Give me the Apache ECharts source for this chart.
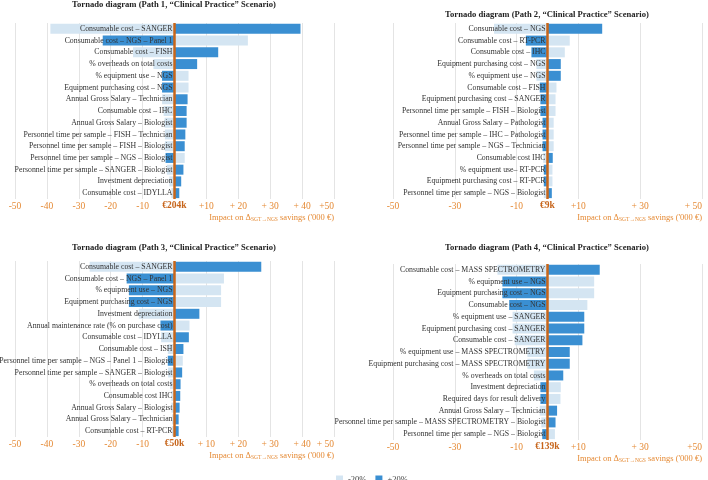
<!DOCTYPE html>
<html>
<head>
<meta charset="utf-8">
<script src="https://cdn.jsdelivr.net/npm/echarts@6/dist/echarts.min.js"></script>
<style>
  html, body { margin: 0; padding: 0; background: #fff; }
  #chart { width: 708px; height: 480px; }
</style>
</head>
<body>
<div id="chart"></div>
<script>
// categories per panel (top to bottom)
const cats1 = ["Consumable cost – SANGER", "Consumable cost – NGS – Panel 1", "Consumable cost – FISH", "% overheads on total costs", "% equipment use – NGS", "Equipment purchasing cost – NGS", "Annual Gross Salary – Technician", "Consumable cost – IHC", "Annual Gross Salary – Biologist", "Personnel time per sample – FISH – Technician", "Personnel time per sample – FISH – Biologist", "Personnel time per sample – NGS – Biologist", "Personnel time per sample – SANGER – Biologist", "Investment depreciation", "Consumable cost – IDYLLA"];
const cats2 = ["Consumable cost – NGS", "Consumable cost – RT-PCR", "Consumable cost – IHC", "Equipment purchasing cost – NGS", "% equipment use – NGS", "Consumable cost – FISH", "Equipment purchasing cost – SANGER", "Personnel time per sample – FISH – Biologist", "Annual Gross Salary – Pathologist", "Personnel time per sample – IHC – Pathologist", "Personnel time per sample – NGS – Technician", "Consumable cost IHC", "% equipment use– RT-PCR", "Equipment purchasing cost – RT-PCR", "Personnel time per sample – NGS – Biologist"];
const cats3 = ["Consumable cost – SANGER", "Consumable cost – NGS – Panel 1", "% equipment use – NGS", "Equipment purchasing cost – NGS", "Investment depreciation", "Annual maintenance rate (% on purchase cost)", "Consumable cost – IDYLLA", "Consumable cost – ISH", "Personnel time per sample – NGS – Panel 1 – Biologist", "Personnel time per sample – SANGER – Biologist", "% overheads on total costs", "Consumable cost IHC", "Annual Gross Salary – Biologist", "Annual Gross Salary – Technician", "Consumable cost – RT-PCR"];
const cats4 = ["Consumable cost – MASS SPECTROMETRY", "% equipment use – NGS", "Equipment purchasing cost – NGS", "Consumable cost – NGS", "% equipment use – SANGER", "Equipment purchasing cost – SANGER", "Consumable cost – SANGER", "% equipment use – MASS SPECTROMETRY", "Equipment purchasing cost – MASS SPECTROMETRY", "% overheads on total costs", "Investment depreciation", "Required days for result delivery", "Annual Gross Salary – Technician", "Personnel time per sample – MASS SPECTROMETRY – Biologist", "Personnel time per sample – NGS – Biologist"];

// impact ('000 €) of -20% and +20% variation
const minus1 = [-38.9, 23, -13, -6.6, 4.4, 4.4, -3.9, -3.4, -3.1, -3, -3, 3.2, -2.4, -1.6, -1];
const plus1 = [39.5, -22.5, 13.7, 7.1, -3.9, -3.9, 4.1, 3.8, 3.8, 3.4, 3.2, -2.8, 2.8, 2.1, 1.5];
const minus2 = [-17.3, 7.2, 5.6, -3.6, -3.6, 2.9, 2.6, 2.6, 2, 2, 2, -1.4, 1.6, 1.6, -1.2];
const plus2 = [17.7, -7, -5.2, 4.3, 4.3, -2.5, -2.3, -2.3, -1.6, -1.6, -1.6, 1.7, -1.2, -1.2, 1.4];
const minus3 = [-26.6, 15.5, 14.6, 14.6, -11.2, 4.7, -4.2, -2.1, 2.6, -2, -1.4, -1, -1, -0.8, -0.8];
const plus3 = [27.2, -15, -14.3, -14.3, 7.8, -4.4, 4.5, 2.8, -2.1, 2.4, 1.9, 1.8, 1.6, 1.3, 1.3];
const minus4 = [-16.2, 15.1, 15.1, 12.9, -11.3, -11.3, -10.6, -6.5, -6.5, -4.4, 4.3, 4.2, -2.5, -2, 2.4];
const plus4 = [16.9, -14.6, -14.6, -12.4, 11.9, 11.9, 11.3, 7.2, 7.2, 5.1, -2.3, -2.3, 3.1, 2.6, -1.7];

// x tick labels, -50 .. +50 by 10 (base value at 0)
const ticks1 = ["-50", "-40", "-30", "-20", "-10", "€204k", "+10", "+ 20", "+ 30", "+ 40", "+50"];
const ticks2 = ["-50", "", "-30", "", "-10", "€9k", "+10", "", "+ 30", "", "+ 50"];
const ticks3 = ["-50", "-40", "-30", "-20", "-10", "€50k", "+ 10", "+ 20", "+ 30", "+ 40", "+ 50"];
const ticks4 = ["-50", "", "-30", "", "-10", "€139k", "+10", "", "+ 30", "", "+50"];
const baseIdx = 5;

const titles = [
  "Tornado diagram (Path 1, “Clinical Practice” Scenario)",
  "Tornado diagram (Path 2, “Clinical Practice” Scenario)",
  "Tornado diagram (Path 3, “Clinical Practice” Scenario)",
  "Tornado diagram (Path 4, “Clinical Practice” Scenario)",
];

const SERIF = "Liberation Serif";
const ORANGE = "#e58a35";
const LIGHT = "#d4e5f2";
const DARK = "#3a8fd2";

const panels = [
  { cats: cats1, minus: minus1, plus: plus1, ticks: ticks1, grid: { left: 15, top: 23, width: 319, height: 176 }, titlePos: { x: 174, y: 0 }, everyOther: false },
  { cats: cats2, minus: minus2, plus: plus2, ticks: ticks2, grid: { left: 393, top: 23, width: 309, height: 176 }, titlePos: { x: 547, y: 10 }, everyOther: true },
  { cats: cats3, minus: minus3, plus: plus3, ticks: ticks3, grid: { left: 15, top: 261, width: 319, height: 176 }, titlePos: { x: 174, y: 243 }, everyOther: false },
  { cats: cats4, minus: minus4, plus: plus4, ticks: ticks4, grid: { left: 393, top: 264, width: 309, height: 176 }, titlePos: { x: 547, y: 243 }, everyOther: true },
];

const chart = echarts.init(document.getElementById("chart"));

const option = {
  backgroundColor: "#fff",
  textStyle: { fontFamily: SERIF },
  animation: false,
  title: [],
  grid: [],
  xAxis: [],
  yAxis: [],
  series: [],
  legend: {
    data: ["-20%", "+20%"],
    left: 331,
    top: 470,
    icon: "rect",
    itemWidth: 7,
    itemHeight: 8,
    itemGap: 9,
    textStyle: { fontFamily: SERIF, fontSize: 8.5, color: "#444" },
  },
};

panels.forEach((p, i) => {
  option.title.push({
    text: titles[i],
    left: p.titlePos.x,
    top: p.titlePos.y,
    padding: 0,
    textAlign: "center",
    textStyle: { fontFamily: SERIF, fontSize: 8.6, fontWeight: "bold", color: "#222" },
  });
  option.grid.push(Object.assign({ containLabel: false, outerBoundsMode: "none" }, p.grid));
  option.xAxis.push({
    type: "value",
    gridIndex: i,
    min: -50,
    max: 50,
    interval: 10,
    axisLine: { show: false },
    axisTick: { show: false },
    splitLine: {
      show: true,
      lineStyle: { color: p.everyOther ? ["#e4e4e4", "rgba(0,0,0,0)"] : "#e4e4e4", width: 1 },
    },
    axisLabel: {
      margin: 2,
      fontFamily: SERIF,
      fontSize: 9.5,
      color: ORANGE,
      alignMaxLabel: "right",
      formatter: (v) => {
        const k = Math.round((v + 50) / 10);
        const t = p.ticks[k] || "";
        return k === baseIdx ? "{b|" + t + "}" : t;
      },
      rich: { b: { fontFamily: SERIF, fontSize: 9.5, fontWeight: "bold", color: "#c7651b" } },
    },
    name: "{a|Impact on Δ}{s|SGT→NGS}{a| savings ('000 €)}",
    nameLocation: "end",
    nameGap: 0,
    nameTextStyle: {
      align: "right",
      verticalAlign: "top",
      padding: [13, 0, 0, 0],
      rich: {
        a: { fontFamily: SERIF, fontSize: 8.5, color: ORANGE },
        s: { fontFamily: SERIF, fontSize: 5.5, color: ORANGE, padding: [5, 0, 0, 0] },
      },
    },
  });
  // labels sit just left of the zero line
  option.yAxis.push({
    type: "category",
    gridIndex: i,
    inverse: true,
    data: p.cats,
    z: 10,
    axisLine: { show: false, onZero: false },
    axisTick: { show: false },
    splitLine: { show: false },
    axisLabel: { margin: -(p.grid.width / 2) + 2, fontFamily: SERIF, fontSize: 7.8, color: "#333" },
  });
  option.series.push({
    name: "-20%",
    type: "bar",
    xAxisIndex: i,
    yAxisIndex: i,
    data: p.minus,
    barWidth: 10,
    barGap: "-100%",
    itemStyle: { color: LIGHT },
  });
  option.series.push({
    name: "+20%",
    type: "bar",
    xAxisIndex: i,
    yAxisIndex: i,
    data: p.plus,
    barWidth: 10,
    barGap: "-100%",
    itemStyle: { color: DARK },
    markLine: {
      silent: true,
      symbol: ["none", "none"],
      label: { show: false },
      z: 20,
      lineStyle: { color: "#c8661a", width: 2.5, type: "solid" },
      data: [{ xAxis: 0 }],
    },
  });
});

chart.setOption(option);
</script>
</body>
</html>
